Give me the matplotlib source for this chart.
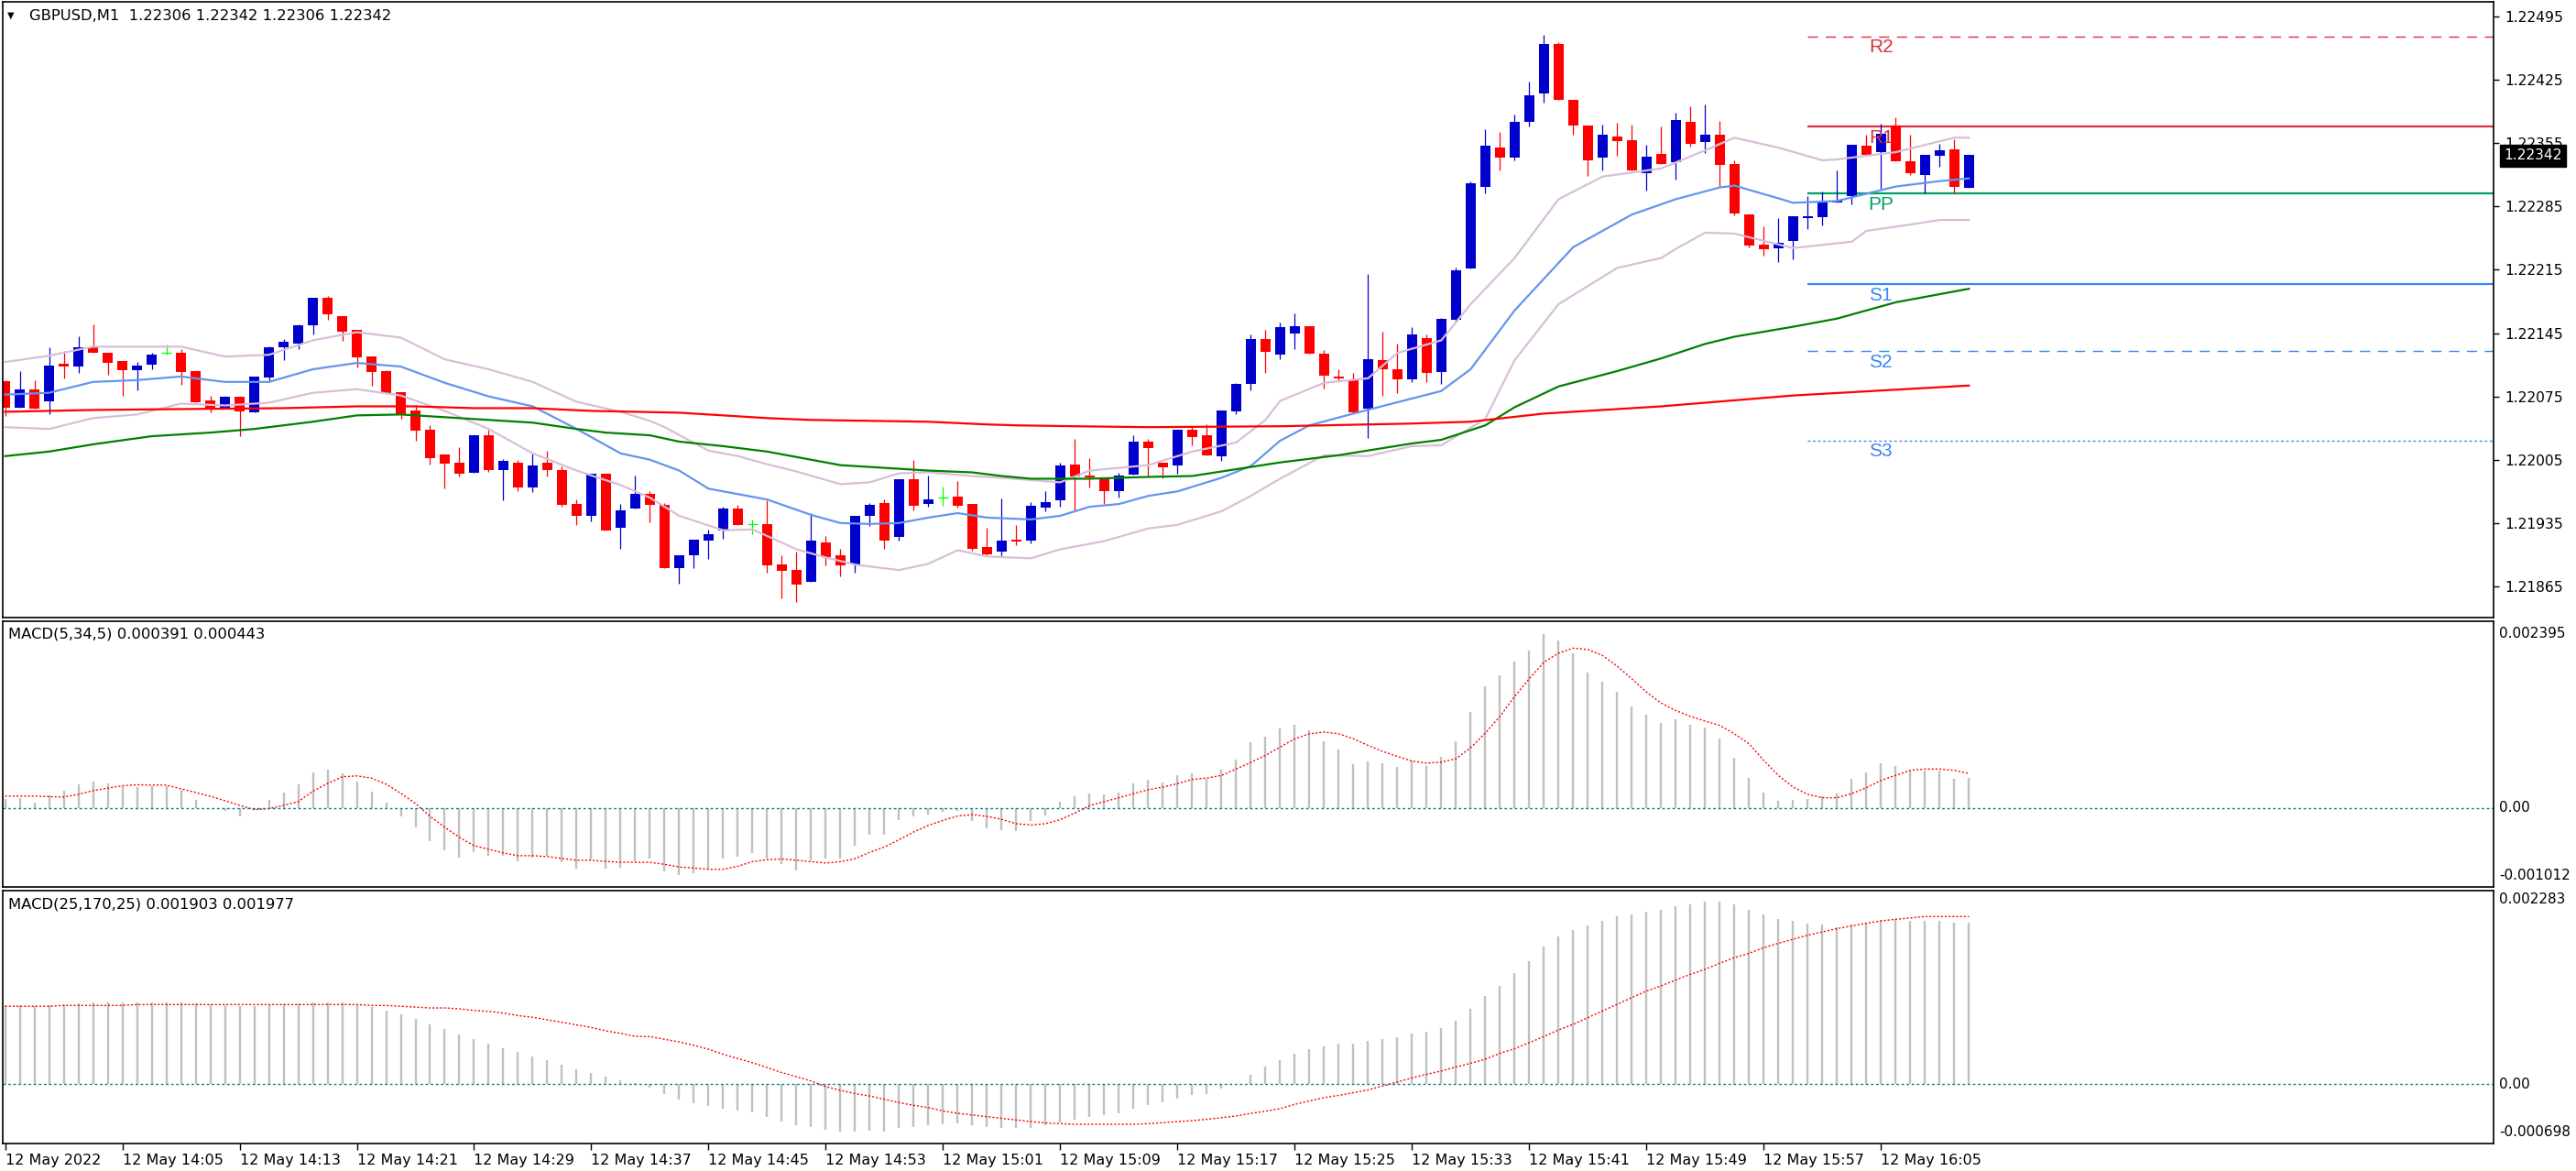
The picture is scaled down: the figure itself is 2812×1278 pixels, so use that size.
import numpy as np
import matplotlib.pyplot as plt

plt.rcParams['font.family'] = 'DejaVu Sans'

W, H = 2812, 1278

# ---- candles GBPUSD M1, 13:57 .. 16:11 (one per bar) ----
opens = [1.22092, 1.22062, 1.22083, 1.22070, 1.22111, 1.22108, 1.22129, 1.22123, 1.22114, 1.22104,
         1.22110, 1.22123, 1.22123, 1.22103, 1.22071, 1.22062, 1.22075, 1.22057, 1.22096, 1.22129,
         1.22133, 1.22154, 1.22184, 1.22164, 1.22149, 1.22119, 1.22103, 1.22080, 1.22059, 1.22038,
         1.22011, 1.22002, 1.21991, 1.22032, 1.21994, 1.22002, 1.21974, 1.22002, 1.21994, 1.21956,
         1.21943, 1.21990, 1.21930, 1.21951, 1.21967, 1.21955, 1.21885, 1.21899, 1.21916, 1.21927,
         1.21951, 1.21934, 1.21934, 1.21889, 1.21883, 1.21870, 1.21914, 1.21899, 1.21889, 1.21943,
         1.21957, 1.21920, 1.21983, 1.21956, 1.21963, 1.21964, 1.21956, 1.21909, 1.21903, 1.21917,
         1.21916, 1.21952, 1.21960, 1.22000, 1.21988, 1.21984, 1.21970, 1.21989, 1.22025, 1.22002,
         1.21999, 1.22038, 1.22032, 1.22009, 1.22058, 1.22089, 1.22138, 1.22121, 1.22145, 1.22153,
         1.22122, 1.22097, 1.22094, 1.22061, 1.22115, 1.22105, 1.22094, 1.22139, 1.22102, 1.22160,
         1.22216, 1.22307, 1.22350, 1.22339, 1.22378, 1.22410, 1.22465, 1.22403, 1.22374, 1.22339,
         1.22362, 1.22358, 1.22322, 1.22343, 1.22334, 1.22379, 1.22356, 1.22364, 1.22332, 1.22276,
         1.22243, 1.22239, 1.22247, 1.22272, 1.22273, 1.22289, 1.22296, 1.22352, 1.22345, 1.22374,
         1.22335, 1.22320, 1.22341, 1.22348, 1.22306]
highs = [1.22093, 1.22103, 1.22093, 1.22129, 1.22125, 1.22141, 1.22155, 1.22123, 1.22114, 1.22113,
         1.22123, 1.22132, 1.22127, 1.22103, 1.22076, 1.22076, 1.22075, 1.22097, 1.22130, 1.22138,
         1.22155, 1.22184, 1.22186, 1.22164, 1.22149, 1.22119, 1.22104, 1.22080, 1.22065, 1.22043,
         1.22011, 1.22019, 1.22032, 1.22038, 1.22006, 1.22005, 1.22012, 1.22015, 1.21998, 1.21961,
         1.21990, 1.21990, 1.21956, 1.21988, 1.21970, 1.21957, 1.21899, 1.21917, 1.21928, 1.21953,
         1.21955, 1.21939, 1.21960, 1.21899, 1.21903, 1.21946, 1.21921, 1.21906, 1.21943, 1.21957,
         1.21961, 1.21983, 1.22005, 1.21988, 1.21975, 1.21981, 1.21956, 1.21930, 1.21962, 1.21933,
         1.21958, 1.21970, 1.22002, 1.22028, 1.22007, 1.21984, 1.21991, 1.22032, 1.22028, 1.22002,
         1.22038, 1.22042, 1.22044, 1.22059, 1.22090, 1.22144, 1.22149, 1.22157, 1.22167, 1.22153,
         1.22126, 1.22105, 1.22101, 1.22210, 1.22147, 1.22133, 1.22152, 1.22144, 1.22162, 1.22217,
         1.22313, 1.22370, 1.22367, 1.22387, 1.22423, 1.22475, 1.22467, 1.22403, 1.22374, 1.22375,
         1.22377, 1.22375, 1.22353, 1.22373, 1.22389, 1.22396, 1.22398, 1.22380, 1.22336, 1.22276,
         1.22263, 1.22272, 1.22274, 1.22296, 1.22302, 1.22325, 1.22353, 1.22364, 1.22376, 1.22384,
         1.22364, 1.22342, 1.22354, 1.22359, 1.22342]
lows = [1.22053, 1.22062, 1.22061, 1.22055, 1.22095, 1.22101, 1.22123, 1.22099, 1.22076, 1.22082,
        1.22105, 1.22121, 1.22088, 1.22069, 1.22057, 1.22062, 1.22031, 1.22057, 1.22092, 1.22115,
        1.22127, 1.22143, 1.22160, 1.22136, 1.22107, 1.22087, 1.22079, 1.22050, 1.22026, 1.22000,
        1.21973, 1.21987, 1.21991, 1.21992, 1.21960, 1.21970, 1.21969, 1.21987, 1.21953, 1.21933,
        1.21937, 1.21927, 1.21906, 1.21951, 1.21936, 1.21885, 1.21868, 1.21885, 1.21895, 1.21918,
        1.21933, 1.21923, 1.21880, 1.21852, 1.21848, 1.21870, 1.21888, 1.21876, 1.21880, 1.21932,
        1.21906, 1.21916, 1.21949, 1.21953, 1.21954, 1.21952, 1.21904, 1.21899, 1.21898, 1.21911,
        1.21913, 1.21948, 1.21953, 1.21949, 1.21974, 1.21956, 1.21963, 1.21989, 1.21986, 1.21984,
        1.21990, 1.22021, 1.22010, 1.22004, 1.22055, 1.22082, 1.22101, 1.22116, 1.22127, 1.22122,
        1.22084, 1.22092, 1.22056, 1.22029, 1.22076, 1.22079, 1.22091, 1.22091, 1.22089, 1.22157,
        1.22216, 1.22299, 1.22325, 1.22336, 1.22373, 1.22400, 1.22403, 1.22364, 1.22319, 1.22325,
        1.22341, 1.22325, 1.22303, 1.22332, 1.22315, 1.22351, 1.22344, 1.22307, 1.22275, 1.22240,
        1.22231, 1.22224, 1.22227, 1.22260, 1.22264, 1.22289, 1.22287, 1.22342, 1.22305, 1.22335,
        1.22320, 1.22300, 1.22329, 1.22300, 1.22306]
closes = [1.22062, 1.22083, 1.22061, 1.22109, 1.22108, 1.22129, 1.22123, 1.22112, 1.22104, 1.22109,
          1.22121, 1.22123, 1.22102, 1.22069, 1.22061, 1.22075, 1.22058, 1.22097, 1.22129, 1.22135,
          1.22154, 1.22184, 1.22166, 1.22147, 1.22118, 1.22102, 1.22079, 1.22055, 1.22037, 1.22007,
          1.22001, 1.21990, 1.22032, 1.21994, 1.22004, 1.21974, 1.21999, 1.21994, 1.21955, 1.21943,
          1.21990, 1.21927, 1.21949, 1.21967, 1.21955, 1.21885, 1.21899, 1.21917, 1.21923, 1.21951,
          1.21933, 1.21934, 1.21888, 1.21882, 1.21867, 1.21916, 1.21897, 1.21888, 1.21943, 1.21955,
          1.21916, 1.21983, 1.21954, 1.21961, 1.21963, 1.21954, 1.21906, 1.21900, 1.21916, 1.21915,
          1.21954, 1.21958, 1.21999, 1.21986, 1.21985, 1.21970, 1.21988, 1.22025, 1.22018, 1.21997,
          1.22038, 1.22030, 1.22010, 1.22059, 1.22089, 1.22138, 1.22124, 1.22152, 1.22153, 1.22122,
          1.22098, 1.22095, 1.22057, 1.22116, 1.22105, 1.22094, 1.22143, 1.22101, 1.22161, 1.22214,
          1.22311, 1.22352, 1.22339, 1.22379, 1.22408, 1.22465, 1.22403, 1.22374, 1.22336, 1.22364,
          1.22357, 1.22325, 1.22340, 1.22332, 1.22381, 1.22354, 1.22364, 1.22331, 1.22277, 1.22242,
          1.22238, 1.22245, 1.22274, 1.22274, 1.22289, 1.22291, 1.22353, 1.22342, 1.22365, 1.22335,
          1.22322, 1.22342, 1.22347, 1.22307, 1.22342]

# ---- indicator lines read at sample bars ----
bb_up_i = [0, 3, 6, 9, 12, 15, 18, 21, 24, 27, 30, 33, 36, 39, 42, 44, 45, 48, 50, 52, 54, 57, 59, 61, 63,
           66, 68, 72, 74, 78, 81, 84, 86, 87, 90, 93, 95, 98, 100, 103, 106, 109, 113, 116, 118, 121,
           124, 125, 129, 133, 134]
bb_up_v = [1.22113, 1.22120, 1.22130, 1.22130, 1.22130, 1.22119, 1.22121, 1.22137, 1.22146, 1.22140,
           1.22116, 1.22105, 1.22091, 1.22069, 1.22058, 1.22048, 1.22041, 1.22015, 1.22009, 1.22000,
           1.21992, 1.21978, 1.21980, 1.21990, 1.21991, 1.21987, 1.21985, 1.21980, 1.21993, 1.21999,
           1.22014, 1.22024, 1.22049, 1.22070, 1.22090, 1.22095, 1.22123, 1.22137, 1.22177, 1.22228,
           1.22293, 1.22318, 1.22327, 1.22347, 1.22361, 1.22350, 1.22336, 1.22337, 1.22345, 1.22361,
           1.22361]
bb_mid_i = [0, 3, 6, 9, 12, 15, 18, 21, 24, 27, 30, 33, 36, 39, 42, 44, 46, 48, 50, 52, 55, 57, 59, 61,
            63, 65, 67, 70, 72, 74, 76, 78, 80, 83, 85, 87, 89, 92, 98, 100, 103, 107, 111, 114, 117,
            118, 121, 122, 125, 129, 132, 134]
bb_mid_v = [1.22077, 1.22079, 1.22091, 1.22093, 1.22097, 1.22091, 1.22091, 1.22105, 1.22112, 1.22108,
            1.22090, 1.22075, 1.22064, 1.22039, 1.22012, 1.22005, 1.21993, 1.21973, 1.21967, 1.21961,
            1.21944, 1.21935, 1.21934, 1.21935, 1.21941, 1.21946, 1.21941, 1.21939, 1.21943, 1.21953,
            1.21956, 1.21965, 1.21970, 1.21985, 1.21998, 1.22026, 1.22043, 1.22056, 1.22081, 1.22105,
            1.22170, 1.22240, 1.22276, 1.22293, 1.22306, 1.22308, 1.22294, 1.22289, 1.22291, 1.22307,
            1.22313, 1.22316]
bb_lo_i = [0, 3, 6, 9, 12, 15, 18, 21, 24, 27, 30, 33, 36, 39, 42, 44, 46, 49, 51, 54, 56, 58, 61, 63,
           65, 67, 70, 72, 75, 78, 80, 83, 85, 87, 90, 93, 96, 98, 101, 103, 106, 110, 113, 114, 116,
           118, 122, 126, 127, 130, 132, 134]
bb_lo_v = [1.22041, 1.22039, 1.22051, 1.22055, 1.22067, 1.22065, 1.22068, 1.22079, 1.22083, 1.22076,
           1.22059, 1.22039, 1.22012, 1.21993, 1.21977, 1.21963, 1.21943, 1.21927, 1.21928, 1.21906,
           1.21897, 1.21889, 1.21883, 1.21890, 1.21905, 1.21898, 1.21896, 1.21906, 1.21915, 1.21929,
           1.21933, 1.21948, 1.21965, 1.21984, 1.22010, 1.22009, 1.22020, 1.22021, 1.22050, 1.22115,
           1.22177, 1.22217, 1.22228, 1.22238, 1.22256, 1.22255, 1.22239, 1.22246, 1.22258, 1.22265,
           1.22270, 1.22270]
ma_red_i = [0, 6, 12, 19, 24, 28, 32, 36, 40, 43, 46, 49, 52, 55, 59, 63, 67, 69, 73, 78, 87, 96, 100,
            105, 113, 122, 134]
ma_red_v = [1.22058, 1.22060, 1.22061, 1.22062, 1.22064, 1.22064, 1.22062, 1.22062, 1.22059, 1.22058,
            1.22057, 1.22054, 1.22051, 1.22049, 1.22048, 1.22047, 1.22044, 1.22043, 1.22042, 1.22041,
            1.22042, 1.22045, 1.22047, 1.22056, 1.22064, 1.22076, 1.22087]
ma_green_i = [0, 3, 6, 10, 14, 17, 21, 24, 27, 30, 33, 36, 39, 41, 44, 46, 49, 52, 55, 57, 60, 63, 66,
              68, 70, 74, 78, 81, 83, 87, 91, 96, 98, 101, 103, 106, 110, 113, 116, 118, 122, 125, 129,
              132, 134]
ma_green_v = [1.22009, 1.22014, 1.22022, 1.22031, 1.22035, 1.22039, 1.22047, 1.22054, 1.22055, 1.22052,
              1.22049, 1.22046, 1.22039, 1.22035, 1.22032, 1.22025, 1.22020, 1.22014, 1.22005, 1.21999,
              1.21996, 1.21993, 1.21991, 1.21987, 1.21984, 1.21984, 1.21986, 1.21987, 1.21992, 1.22002,
              1.22010, 1.22023, 1.22027, 1.22043, 1.22063, 1.22086, 1.22103, 1.22117, 1.22133, 1.22141,
              1.22152, 1.22161, 1.22179, 1.22188, 1.22194]

# ---- daily pivots ----
piv_names = ['R2', 'R1', 'PP', 'S1', 'S2', 'S3']
piv_vals = [1.22473, 1.22373, 1.22299, 1.22199, 1.22125, 1.22026]

# ---- MACD(5,34,5) ----
macd1 = [0.00012, 0.000129, 0.00007, 0.000165, 0.000223, 0.000306, 0.000341, 0.000318, 0.000286, 0.000274,
         0.000286, 0.000286, 0.000239, 0.000106, 0.0, -0.000039, -0.000106, -0.000027, 0.000106, 0.0002,
         0.000306, 0.000459, 0.000494, 0.000447, 0.000341, 0.000212, 0.00007, -0.000106, -0.000247, -0.000423,
         -0.000541, -0.000635, -0.000564, -0.000611, -0.000611, -0.000682, -0.000635, -0.000611, -0.000694, -0.000776,
         -0.000659, -0.000776, -0.000764, -0.000682, -0.000653, -0.000816, -0.000863, -0.000841, -0.00079, -0.000653,
         -0.000619, -0.000576, -0.000653, -0.000722, -0.000798, -0.00067, -0.000653, -0.000653, -0.000487, -0.000337,
         -0.000346, -0.000158, -0.000111, -0.000081, -0.000043, -0.000038, -0.000171, -0.000265, -0.000278, -0.00029,
         -0.000171, -0.000094, 0.000085, 0.000154, 0.000188, 0.000171, 0.0002, 0.000316, 0.000367, 0.000329,
         0.000423, 0.000448, 0.00038, 0.000495, 0.000623, 0.00085, 0.000918, 0.00102, 0.001068, 0.000999,
         0.000858, 0.000752, 0.000564, 0.000598, 0.000576, 0.00053, 0.000611, 0.000542, 0.000658, 0.000858,
         0.001234, 0.001563, 0.001704, 0.001879, 0.00202, 0.002233, 0.002148, 0.001986, 0.001734, 0.001623,
         0.00149, 0.001302, 0.0012, 0.001093, 0.00114, 0.001068, 0.001033, 0.000892, 0.000645, 0.000389,
         0.0002, 0.000094, 0.000107, 0.00012, 0.000154, 0.000188, 0.000376, 0.000457, 0.000576, 0.000542,
         0.000483, 0.000483, 0.000483, 0.000376, 0.000391]
sig1 = [0.000153, 0.000153, 0.000153, 0.000147, 0.000141, 0.000176, 0.000223, 0.000255, 0.000286, 0.000298,
        0.000294, 0.000294, 0.000247, 0.0002, 0.00015, 0.000094, 0.000035, -0.00002, -0.000008, 0.000035,
        0.000082, 0.000215, 0.000314, 0.0004, 0.000412, 0.000384, 0.000306, 0.000188, 0.000059, -0.000106,
        -0.000247, -0.000376, -0.000482, -0.000529, -0.000576, -0.000611, -0.000611, -0.000623, -0.000647, -0.00067,
        -0.00067, -0.000685, -0.000695, -0.000695, -0.000696, -0.000722, -0.000756, -0.000769, -0.000786, -0.000786,
        -0.000747, -0.000687, -0.000662, -0.000653, -0.00067, -0.000687, -0.000705, -0.000687, -0.000649, -0.000568,
        -0.0005, -0.000406, -0.000307, -0.000222, -0.000158, -0.000102, -0.000085, -0.000107, -0.000145, -0.000201,
        -0.000218, -0.000201, -0.000149, -0.000064, 0.00003, 0.000081, 0.000132, 0.000184, 0.000235, 0.000269,
        0.000312, 0.000367, 0.000384, 0.000418, 0.0005, 0.000585, 0.000675, 0.000781, 0.000888, 0.000952,
        0.000974, 0.000952, 0.000888, 0.000803, 0.000726, 0.000662, 0.000602, 0.000576, 0.000589, 0.000632,
        0.000773, 0.000961, 0.001174, 0.00143, 0.001657, 0.00187, 0.001986, 0.00205, 0.002033, 0.001956,
        0.001819, 0.001657, 0.001486, 0.001345, 0.001251, 0.001174, 0.001115, 0.001059, 0.000952, 0.000824,
        0.000611, 0.000418, 0.000269, 0.000175, 0.000132, 0.000132, 0.000184, 0.00026, 0.000354, 0.000418,
        0.000483, 0.0005, 0.0005, 0.000483, 0.000443]

# ---- MACD(25,170,25) ----
macd2 = [0.00093, 0.00093, 0.00092, 0.00093, 0.00094, 0.00095, 0.00096, 0.00096, 0.00096, 0.00096,
         0.00096, 0.00096, 0.00096, 0.00095, 0.00094, 0.00093, 0.00092, 0.00092, 0.00093, 0.00094,
         0.00095, 0.00097, 0.00097, 0.00096, 0.00094, 0.00091, 0.00087, 0.00082, 0.00077, 0.00071,
         0.00065, 0.00059, 0.00053, 0.00048, 0.00043, 0.00038, 0.00033, 0.00028, 0.00023, 0.00018,
         0.00013, 0.00009, 0.00005, 0.00002, -0.000039, -0.00011, -0.000177, -0.000228, -0.000259, -0.000283,
         -0.000307, -0.00033, -0.000381, -0.000436, -0.000487, -0.000499, -0.000531, -0.000562, -0.000558, -0.000546,
         -0.000558, -0.000519, -0.000499, -0.000487, -0.000468, -0.000456, -0.000479, -0.000499, -0.000511, -0.000519,
         -0.000511, -0.000487, -0.000448, -0.000413, -0.000381, -0.000358, -0.000338, -0.000283, -0.00024, -0.000216,
         -0.000173, -0.00013, -0.00011, -0.000051, 0.000008, 0.000114, 0.000204, 0.000287, 0.000362, 0.000417,
         0.000448, 0.00048, 0.00048, 0.000515, 0.000534, 0.000558, 0.000601, 0.000621, 0.000664, 0.000751,
         0.000892, 0.001041, 0.001163, 0.001313, 0.001454, 0.001627, 0.001745, 0.00182, 0.001875, 0.00193,
         0.001981, 0.002004, 0.002036, 0.002059, 0.002103, 0.002122, 0.002158, 0.002158, 0.002122, 0.002059,
         0.002004, 0.001949, 0.00193, 0.001898, 0.001882, 0.001855, 0.001882, 0.001906, 0.001937, 0.001949,
         0.00193, 0.00193, 0.00193, 0.001906, 0.001903]
sig2 = [0.00092, 0.00092, 0.00092, 0.00092, 0.00093, 0.00093, 0.00093, 0.00093, 0.00093, 0.00094,
        0.00094, 0.00094, 0.00094, 0.00094, 0.00094, 0.00094, 0.00094, 0.00094, 0.00094, 0.00094,
        0.00094, 0.00094, 0.00094, 0.00094, 0.00094, 0.00093, 0.00093, 0.00092, 0.00091, 0.0009,
        0.0009, 0.00089, 0.00087, 0.00086, 0.00084, 0.00081, 0.00079, 0.00076, 0.00073, 0.0007,
        0.00067, 0.00063, 0.0006, 0.000565, 0.000562, 0.000531, 0.000499, 0.00046, 0.000413, 0.000354,
        0.000303, 0.000255, 0.000197, 0.000138, 0.00009, 0.000039, -0.000028, -0.000071, -0.00011, -0.000138,
        -0.000177, -0.000216, -0.000248, -0.000275, -0.000314, -0.000342, -0.000362, -0.000381, -0.000401, -0.00042,
        -0.00044, -0.000456, -0.000464, -0.000472, -0.000472, -0.000472, -0.000472, -0.000472, -0.000464, -0.000452,
        -0.00044, -0.000428, -0.000413, -0.000393, -0.000373, -0.000342, -0.000318, -0.000287, -0.000236, -0.000197,
        -0.000157, -0.00013, -0.000098, -0.000067, -0.00002, 0.000028, 0.000075, 0.000118, 0.000157, 0.000204,
        0.000248, 0.000295, 0.000365, 0.00042, 0.000491, 0.000562, 0.000641, 0.000707, 0.000786, 0.000865,
        0.000943, 0.001022, 0.0011, 0.00116, 0.00123, 0.001297, 0.001356, 0.001427, 0.001493, 0.001544,
        0.001611, 0.001662, 0.00171, 0.001757, 0.001796, 0.001835, 0.001867, 0.001898, 0.001926, 0.001945,
        0.001961, 0.001977, 0.001977, 0.001977, 0.001977]

price_ticks = [1.21865, 1.21935, 1.22005, 1.22075, 1.22145, 1.22215, 1.22285, 1.22355, 1.22425, 1.22495]
time_ticks = [0, 8, 16, 24, 32, 40, 48, 56, 64, 72, 80, 88, 96, 104, 112, 120, 128]
time_labels = ['12 May 2022', '12 May 14:05', '12 May 14:13', '12 May 14:21', '12 May 14:29',
               '12 May 14:37', '12 May 14:45', '12 May 14:53', '12 May 15:01', '12 May 15:09',
               '12 May 15:17', '12 May 15:25', '12 May 15:33', '12 May 15:41', '12 May 15:49',
               '12 May 15:57', '12 May 16:05']

fig = plt.figure(figsize=(W / 100, H / 100), dpi=100)


def panel(top, bottom):
    return fig.add_axes([3 / W, 1 - bottom / H, 2719 / W, (bottom - top) / H])


ax = panel(2, 674)
m1 = panel(678, 968)
m2 = panel(972, 1248)
for a in (ax, m1, m2):
    a.set_xlim(-0.16, 169.8)
    for s in a.spines.values():
        s.set_linewidth(1.2)
        s.set_color('black')

# candles
o, hi, lo, c = map(np.array, (opens, highs, lows, closes))
x = np.arange(len(o))
bull, bear, doji = c > o, c < o, c == o
for m, col in ((bull, '#0000CC'), (bear, '#FF0000')):
    ax.vlines(x[m], lo[m], hi[m], color=col, lw=0.9, zorder=2)
    ax.bar(x[m], np.maximum(np.abs(c - o)[m], 0.000012), bottom=np.minimum(o, c)[m],
           width=0.66, color=col, lw=0, zorder=2)
ax.vlines(x[doji], lo[doji], hi[doji], color='#00FF00', lw=0.9, zorder=2)
ax.hlines(o[doji], x[doji] - 0.33, x[doji] + 0.33, color='#00FF00', lw=0.9, zorder=2)

ax.plot(bb_up_i, bb_up_v, color='#D8BFD8', lw=1.6, zorder=3)
ax.plot(bb_lo_i, bb_lo_v, color='#D8BFD8', lw=1.6, zorder=3)
ax.plot(bb_mid_i, bb_mid_v, color='#6495ED', lw=1.6, zorder=3)
ax.plot(ma_green_i, ma_green_v, color='#008000', lw=1.6, zorder=3)
ax.plot(ma_red_i, ma_red_v, color='#FF0000', lw=1.6, zorder=3)

# pivots
piv_style = {'R2': ('#DC2F3C', (0, (8, 6)), 1.0), 'R1': ('#DC2F3C', '-', 1.6),
             'PP': ('#00A060', '-', 1.6), 'S1': ('#3C86F0', '-', 1.6),
             'S2': ('#3C86F0', (0, (8, 6)), 1.0), 'S3': ('#3C86F0', (0, (2, 2)), 1.0)}
for name, val in zip(piv_names, piv_vals):
    col, ls, lw = piv_style[name]
    ax.hlines(val, 123, 175, color=col, linestyles=ls, lw=lw, zorder=1)
    ax.annotate(name, (128, val), xytext=(0, -8.5), textcoords='offset points', ha='center',
                va='center', color=col, fontsize=15, family='Liberation Sans', zorder=2.5)

ax.set_ylim(1.218305, 1.225112)
ax.set_xticks([])
ax.yaxis.tick_right()
ax.set_yticks(price_ticks)
ax.set_yticklabels([f'{v:.5f}' for v in price_ticks])
ax.tick_params(axis='y', direction='out', length=4, width=1, pad=5, labelsize=11.2)

# MACD panels
for a, hist, sig, lims in ((m1, macd1, sig1, (-0.001012, 0.002395)),
                           (m2, macd2, sig2, (-0.000698, 0.002283))):
    a.vlines(x, 0, hist, color='#C0C0C0', lw=1.7)
    a.plot(x, sig, color='#FF0000', lw=1.0, ls=(0, (1.5, 1.5)))
    a.axhline(0, color='#008080', lw=1.0, ls=(0, (2, 2)))
    a.set_ylim(*lims)
    a.set_yticks([])
m1.set_xticks([])
m2.set_xticks(time_ticks)
m2.set_xticklabels(time_labels, ha='left')
m2.tick_params(axis='x', direction='out', length=5, width=1, pad=3, labelsize=11.5)


# labels in pixel coordinates
def ftxt(px, py, s, **kw):
    fig.text(px / W, 1 - py / H, s, va='center', ha='left', **kw)


ftxt(8, 17, '\u25bc', fontsize=7)
ftxt(32, 17, 'GBPUSD,M1  1.22306 1.22342 1.22306 1.22342', fontsize=11.8)
ftxt(9, 692, 'MACD(5,34,5) 0.000391 0.000443', fontsize=11.8)
ftxt(9, 987, 'MACD(25,170,25) 0.001903 0.001977', fontsize=11.8)
ftxt(2728, 692, '0.002395', fontsize=11)
ftxt(2728, 881, '0.00', fontsize=11)
ftxt(2728, 956, '-0.001012', fontsize=11)
ftxt(2728, 982, '0.002283', fontsize=11)
ftxt(2728, 1183, '0.00', fontsize=11)
ftxt(2728, 1235, '-0.000698', fontsize=11)
ftxt(2733, 170, '1.22342', fontsize=11.2, color='white',
     bbox=dict(boxstyle='square,pad=0.28', fc='black', ec='black'))

fig.savefig('out.png', dpi=100, facecolor='white')
